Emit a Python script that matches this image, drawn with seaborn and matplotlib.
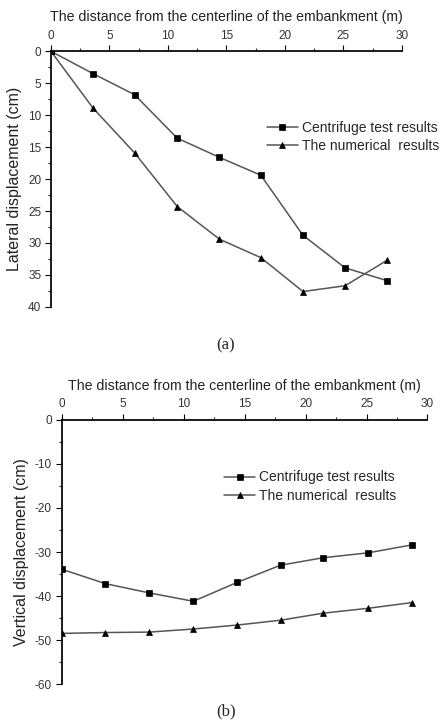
import numpy as np
import pandas as pd
import matplotlib
matplotlib.use("Agg")
import matplotlib.pyplot as plt
import seaborn as sns
from matplotlib.ticker import MultipleLocator

# data
dist_a = [0, 3.6, 7.15, 10.8, 14.4, 17.95, 21.55, 25.15, 28.75]
lat_test = [0, 3.5, 6.8, 13.6, 16.6, 19.4, 28.8, 33.9, 35.9]
lat_num = [0, 8.9, 15.9, 24.3, 29.4, 32.3, 37.6, 36.7, 32.7]

dist_b = [0, 3.6, 7.2, 10.8, 14.4, 17.95, 21.45, 25.1, 28.7]
ver_test = [-33.9, -37.2, -39.3, -41.2, -36.9, -33.0, -31.3, -30.2, -28.4]
ver_num = [-48.5, -48.3, -48.2, -47.5, -46.6, -45.5, -43.9, -42.8, -41.5]

series_names = ["Centrifuge test results", "The numerical  results"]
xlabel = "The distance from the centerline of the embankment (m)"

sns.set_theme(style="ticks")
plt.rcParams['font.family'] = ['Liberation Sans', 'DejaVu Sans']
plt.rcParams['axes.unicode_minus'] = False

fig = plt.figure(figsize=(4.43, 7.22), dpi=100)
ax_a = fig.add_axes([0.115, 0.575, 0.792, 0.354])
ax_b = fig.add_axes([0.139, 0.0526, 0.826, 0.3657])

def make_df(x, y1, y2):
    return pd.DataFrame({
        "x": list(x) + list(x),
        "y": list(y1) + list(y2),
        "series": [series_names[0]] * len(x) + [series_names[1]] * len(x),
    })

def draw(ax, df):
    sns.lineplot(data=df, x="x", y="y", hue="series", style="series",
                 markers={series_names[0]: "s", series_names[1]: "^"},
                 dashes=False, palette=["#555555", "#555555"],
                 markersize=4.8, markeredgecolor="black", markeredgewidth=0.5,
                 linewidth=1.1, ax=ax, legend=True, sort=False)
    for ln in ax.lines:
        ln.set_markerfacecolor("black")
    ax.xaxis.tick_top()
    ax.xaxis.set_label_position("top")
    ax.spines["right"].set_visible(False)
    ax.spines["bottom"].set_visible(False)
    ax.spines["left"].set_color("black")
    ax.spines["top"].set_color("black")
    ax.xaxis.set_major_locator(MultipleLocator(5))
    ax.xaxis.set_minor_locator(MultipleLocator(2.5))
    ax.tick_params(which="major", length=4, width=0.8, labelsize=8.5,
                   colors="black", labelcolor="#333333", pad=3)
    ax.tick_params(which="minor", length=2.5, width=0.8)
    ax.set_xlabel(xlabel, fontsize=10.2, labelpad=6, color="#222222")
    ax.set_xlim(0, 30)
    h, l = ax.get_legend_handles_labels()
    for hh in h:
        hh.set_markerfacecolor("black")
        hh.set_markersize(4)
    return h, l

df_a = make_df(dist_a, lat_test, lat_num)
h, l = draw(ax_a, df_a)
ax_a.set_ylim(40, 0)
ax_a.yaxis.set_major_locator(MultipleLocator(5))
ax_a.yaxis.set_minor_locator(MultipleLocator(2.5))
ax_a.set_ylabel("Lateral displacement (cm)", fontsize=11.5, labelpad=4,
                color="#222222")
ax_a.legend(h, l, loc="upper left", bbox_to_anchor=(0.6, 0.75), frameon=False,
            fontsize=10, handlelength=2.2, handletextpad=0.3,
            labelspacing=0.3, borderaxespad=0)

df_b = make_df(dist_b, ver_test, ver_num)
h, l = draw(ax_b, df_b)
ax_b.set_ylim(-60, 0)
ax_b.yaxis.set_major_locator(MultipleLocator(10))
ax_b.yaxis.set_minor_locator(MultipleLocator(5))
ax_b.set_ylabel("Vertical displacement (cm)", fontsize=11.5, labelpad=4,
                color="#222222")
ax_b.legend(h, l, loc="upper left", bbox_to_anchor=(0.43, 0.83), frameon=False,
            fontsize=10, handlelength=2.2, handletextpad=0.3,
            labelspacing=0.3, borderaxespad=0)

fig.text(0.51, 1 - 345 / 722, "(a)", ha="center", va="center", fontsize=12,
         family=["Liberation Serif", "DejaVu Serif"])
fig.text(0.51, 1 - 711 / 722, "(b)", ha="center", va="center", fontsize=12,
         family=["Liberation Serif", "DejaVu Serif"])

fig.savefig("out.png", dpi=100)
